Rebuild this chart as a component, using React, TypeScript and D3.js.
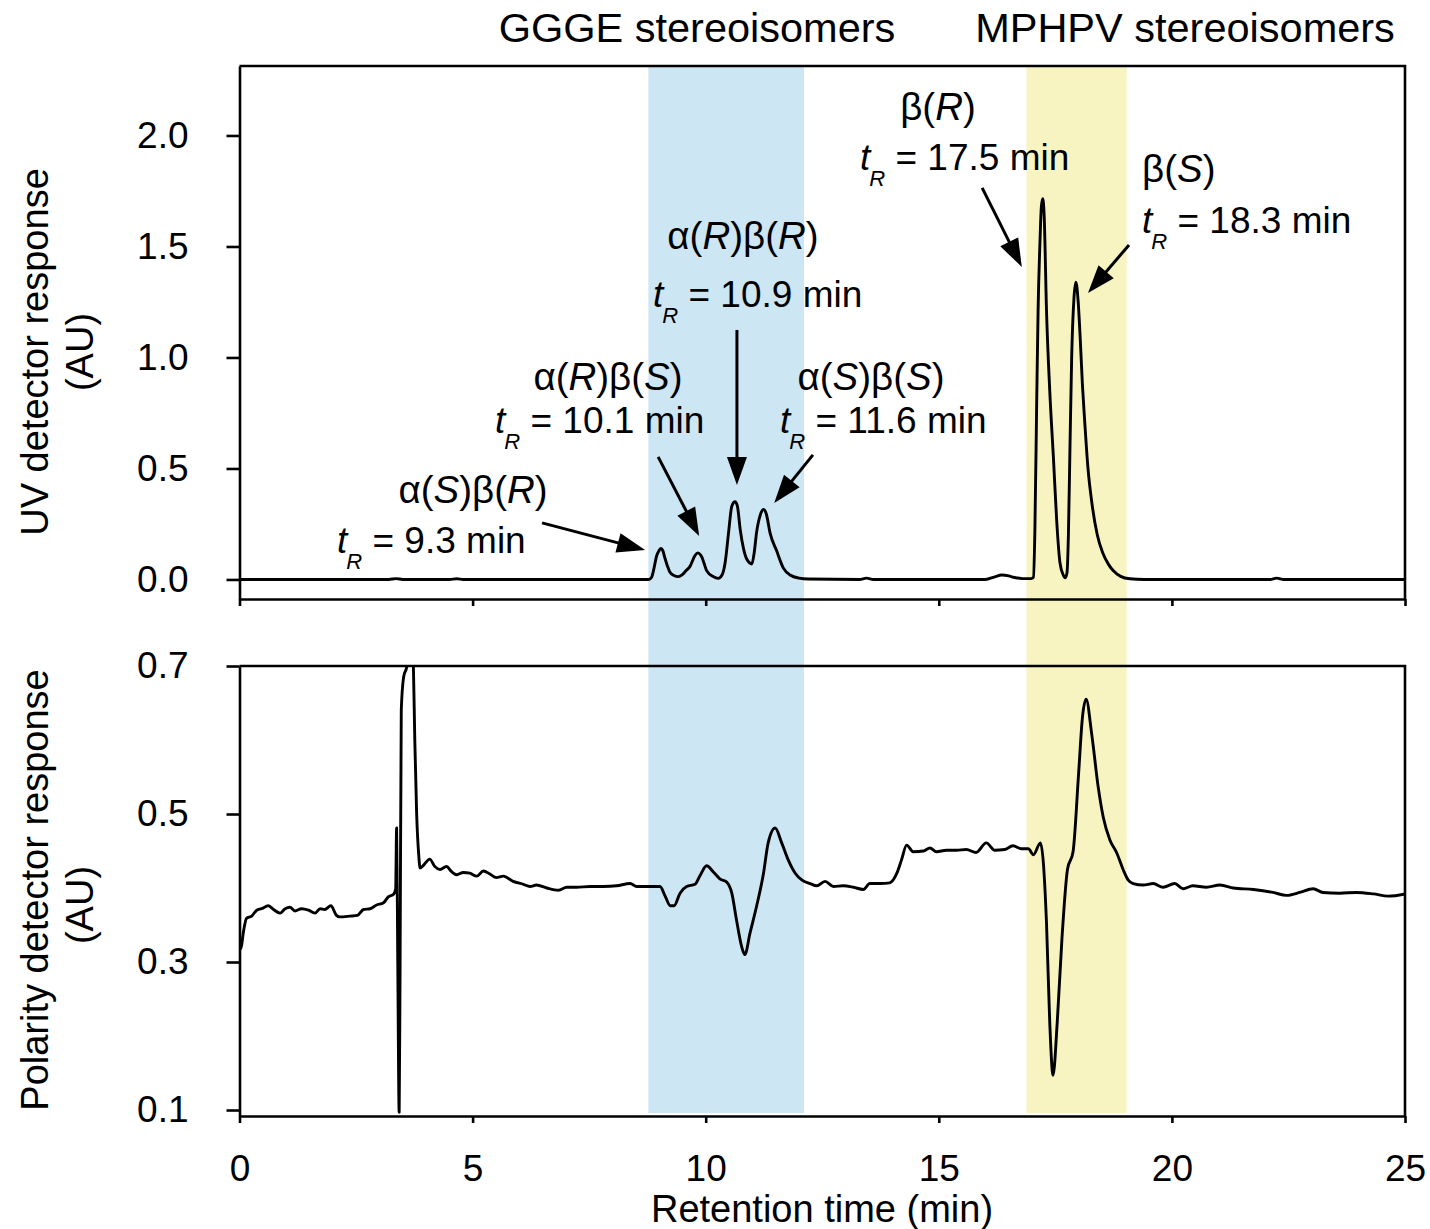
import React, { useRef, useEffect } from 'react';
import * as d3 from 'd3';

// UV detector trace (top panel)
const uvTime = [0, 3.2, 3.36, 3.5, 4.5, 4.66, 4.8, 8.78, 8.84, 8.88, 8.95, 9.0, 9.04, 9.08, 9.12, 9.18, 9.23,
  9.32, 9.41, 9.5, 9.58, 9.66, 9.77, 9.83, 9.88, 9.92, 9.97, 10.02, 10.16, 10.27, 10.35, 10.42, 10.49, 10.56,
  10.63, 10.68, 10.74, 10.81, 10.88, 10.99, 11.04, 11.09, 11.17, 11.24, 11.3, 11.38, 11.52, 11.67, 11.81, 12.0,
  12.2, 13.3, 13.45, 13.6, 16.0, 16.2, 16.35, 16.5, 16.6, 16.8, 16.98, 17.03, 17.06, 17.1, 17.13, 17.17, 17.2,
  17.23, 17.26, 17.31, 17.38, 17.46, 17.53, 17.6, 17.67, 17.71, 17.75, 17.78, 17.81, 17.85, 17.9, 17.94, 17.99,
  18.03, 18.08, 18.13, 18.2, 18.28, 18.4, 18.52, 18.64, 18.74, 18.9, 19.1, 19.4, 22.1, 22.25, 22.4, 25];
const uvSignal = [0, 0, 0.004, 0, 0, 0.003, 0, 0, 0.01, 0.04, 0.108, 0.13, 0.14, 0.13, 0.1, 0.06, 0.034,
  0.018, 0.013, 0.022, 0.04, 0.058, 0.108, 0.12, 0.113, 0.1, 0.07, 0.04, 0.013, 0.005, 0.02, 0.08, 0.21, 0.33,
  0.35, 0.33, 0.225, 0.14, 0.092, 0.07, 0.12, 0.21, 0.29, 0.315, 0.295, 0.21, 0.13, 0.05, 0.02, 0.006,
  0.002, 0, 0.006, 0, 0, 0.012, 0.02, 0.016, 0.01, 0.004, 0.004, 0.01, 0.208, 0.8, 1.214, 1.52, 1.68,
  1.715, 1.64, 1.214, 0.85, 0.543, 0.26, 0.074, 0.02, 0.007, 0.03, 0.2, 0.55, 1.0, 1.27, 1.339, 1.25,
  1.1, 0.88, 0.711, 0.5, 0.35, 0.2, 0.118, 0.068, 0.04, 0.014, 0.003, 0, 0, 0.006, 0, 0];

// Polarity detector trace (bottom panel)
const polTime = [0.0, 0.03, 0.08, 0.15, 0.26, 0.37, 0.47, 0.62, 0.73, 0.87, 0.98, 1.08, 1.19, 1.33, 1.48, 1.62,
  1.73, 1.83, 1.96, 2.08, 2.15, 2.37, 2.53, 2.66, 2.8, 2.94, 3.09, 3.19, 3.31, 3.35, 3.37, 3.395, 3.425, 3.445,
  3.47, 3.52, 3.59, 3.64, 3.71, 3.73, 3.76, 3.8, 3.85, 3.87, 3.95, 4.08, 4.19, 4.3, 4.44, 4.55, 4.66, 4.8, 4.94,
  5.09, 5.23, 5.37, 5.51, 5.66, 5.87, 6.09, 6.23, 6.37, 6.59, 6.84, 7.02, 7.23, 7.52, 7.8, 8.09, 8.38, 8.52,
  9.02, 9.13, 9.24, 9.32, 9.45, 9.59, 9.77, 9.88, 10.02, 10.16, 10.31, 10.45, 10.56, 10.66, 10.77, 10.84,
  10.95, 11.09, 11.24, 11.34, 11.49, 11.63, 11.77, 11.92, 12.06, 12.24, 12.38, 12.56, 12.74, 12.95, 13.17,
  13.38, 13.52, 13.74, 13.95, 14.1, 14.2, 14.31, 14.45, 14.67, 14.81, 14.95, 15.16, 15.38, 15.59, 15.8, 16.02,
  16.2, 16.41, 16.59, 16.77, 16.92, 17.03, 17.18, 17.31, 17.38, 17.45, 17.54, 17.64, 17.76, 17.88, 18.0,
  18.08, 18.16, 18.28, 18.42, 18.53, 18.67, 18.82, 18.96, 19.06, 19.17, 19.38, 19.6, 19.81, 20.06, 20.24,
  20.45, 20.74, 21.03, 21.32, 21.75, 22.17, 22.46, 22.74, 23.03, 23.24, 23.6, 23.96, 24.32, 24.64, 25.0];
const polSignal = [0.33, 0.318, 0.339, 0.359, 0.362, 0.37, 0.372, 0.376, 0.371, 0.366, 0.372, 0.374, 0.369,
  0.372, 0.37, 0.366, 0.372, 0.371, 0.376, 0.363, 0.361, 0.362, 0.363, 0.371, 0.372, 0.377, 0.38, 0.388, 0.392,
  0.399, 0.481, 0.3, 0.097, 0.3, 0.64, 0.685, 0.7, 0.74, 0.72, 0.7, 0.6, 0.5, 0.44, 0.427, 0.431, 0.439, 0.429,
  0.425, 0.429, 0.422, 0.418, 0.421, 0.42, 0.416, 0.423, 0.419, 0.414, 0.416, 0.409, 0.405, 0.402, 0.404, 0.4,
  0.397, 0.401, 0.401, 0.402, 0.402, 0.403, 0.406, 0.402, 0.402, 0.389, 0.376, 0.376, 0.393, 0.402, 0.405,
  0.417, 0.43, 0.422, 0.412, 0.408, 0.393, 0.357, 0.321, 0.31, 0.339, 0.375, 0.42, 0.461, 0.481, 0.461, 0.438,
  0.42, 0.411, 0.406, 0.403, 0.409, 0.402, 0.403, 0.401, 0.398, 0.406, 0.406, 0.407, 0.42, 0.438, 0.458,
  0.449, 0.45, 0.454, 0.449, 0.451, 0.451, 0.452, 0.448, 0.461, 0.451, 0.452, 0.457, 0.453, 0.453, 0.445,
  0.461, 0.353, 0.218, 0.147, 0.218, 0.33, 0.425, 0.449, 0.556, 0.63, 0.655, 0.608, 0.536, 0.495, 0.465,
  0.447, 0.424, 0.411, 0.406, 0.404, 0.406, 0.401, 0.406, 0.399, 0.403, 0.401, 0.404, 0.4, 0.398, 0.394, 0.39,
  0.394, 0.399, 0.394, 0.393, 0.394, 0.392, 0.389, 0.392];

const xTicks = [0, 5, 10, 15, 20, 25];
const uvTicks = [0, 0.5, 1.0, 1.5, 2.0];
const polTicks = [0.1, 0.3, 0.5, 0.7];

const bandStart = [8.77, 16.88];
const bandEnd = [12.11, 19.03];
const bandTitles = ['GGGE stereoisomers', 'MPHPV stereoisomers'];
const bandColors = ['#cde6f4', '#f8f4c2'];
const titleCenter = [697, 1185]; // pixels

const peakNames = ['α(S)β(R)', 'α(R)β(S)', 'α(R)β(R)', 'α(S)β(S)', 'β(R)', 'β(S)'];
const peakTR = ['9.3', '10.1', '10.9', '11.6', '17.5', '18.3'];
// arrow tip / tail in data units (time, AU)
const arrowTip = [[8.7, 0.133], [9.86, 0.196], [10.67, 0.426], [11.47, 0.345], [16.78, 1.408], [18.2, 1.29]];
const arrowTail = [[6.49, 0.255], [8.98, 0.552], [10.67, 1.124], [12.3, 0.561], [15.93, 1.764], [19.08, 1.507]];

// label placement (pixels)
const labelPos = [
  { nx: 473, ny: 503, anchor: 'middle', tx: 337, ty: 553 },
  { nx: 608, ny: 390, anchor: 'middle', tx: 495, ty: 433 },
  { nx: 743, ny: 249, anchor: 'middle', tx: 653, ty: 307 },
  { nx: 871, ny: 390, anchor: 'middle', tx: 780, ty: 433 },
  { nx: 938, ny: 120, anchor: 'middle', tx: 860, ty: 170 },
  { nx: 1142, ny: 182, anchor: 'start', tx: 1142, ty: 233 },
];

const FONT = '"Liberation Sans", Arial, Helvetica, sans-serif';

const App = () => {
  const svgRef = useRef(null);

  useEffect(() => {
    document.body.style.margin = '0';
    const svg = d3.select(svgRef.current);
    svg.selectAll('*').remove();

    const left = 239.5, right = 1405;
    const x = d3.scaleLinear().domain([0, 25]).range([left, right]);
    const yTop = d3.scaleLinear().domain([-0.088, 2.313]).range([599, 66]);
    const yBot = d3.scaleLinear().domain([0.0919, 0.7]).range([1116, 666]);

    svg.attr('width', 1430).attr('height', 1229).style('font-family', FONT);

    const defs = svg.append('defs');
    defs.append('clipPath').attr('id', 'clipTop').append('rect')
      .attr('x', left).attr('y', 66).attr('width', right - left).attr('height', 533);
    defs.append('clipPath').attr('id', 'clipBot').append('rect')
      .attr('x', left).attr('y', 666).attr('width', right - left).attr('height', 450);

    // shaded bands spanning both panels
    bandStart.forEach((s, i) => {
      svg.append('rect')
        .attr('x', x(s)).attr('y', 65)
        .attr('width', x(bandEnd[i]) - x(s)).attr('height', 1113 - 65)
        .attr('fill', bandColors[i]);
      svg.append('text')
        .attr('x', titleCenter[i])
        .attr('y', 42)
        .attr('text-anchor', 'middle')
        .attr('font-size', 41.5)
        .text(bandTitles[i]);
    });

    const uvLine = d3.line<number>()
      .x((d, i) => x(uvTime[i]))
      .y(d => yTop(d))
      .curve(d3.curveMonotoneX);
    svg.append('path')
      .attr('d', uvLine(uvSignal))
      .attr('clip-path', 'url(#clipTop)')
      .attr('fill', 'none').attr('stroke', '#000').attr('stroke-width', 2.9)
      .attr('stroke-linejoin', 'round');

    const polLine = d3.line<number>()
      .x((d, i) => x(polTime[i]))
      .y(d => yBot(d))
      .curve(d3.curveMonotoneX);
    svg.append('path')
      .attr('d', polLine(polSignal))
      .attr('clip-path', 'url(#clipBot)')
      .attr('fill', 'none').attr('stroke', '#000').attr('stroke-width', 2.9)
      .attr('stroke-linejoin', 'round');

    const styleAxis = (g) => {
      g.selectAll('path, line').attr('stroke', '#000').attr('stroke-width', 2.6);
      g.selectAll('text').attr('font-family', FONT).attr('font-size', 37).attr('fill', '#000');
    };

    // top panel axes + frame
    svg.append('g').attr('transform', 'translate(0,599)')
      .call(d3.axisBottom(x).tickValues(xTicks).tickSize(7).tickSizeOuter(0).tickFormat(() => ''))
      .call(styleAxis);
    svg.append('g').attr('transform', `translate(${left},0)`)
      .call(d3.axisLeft(yTop).tickValues(uvTicks).tickSize(13).tickSizeOuter(0).tickPadding(38)
        .tickFormat(d3.format('.1f')))
      .call(styleAxis);
    svg.append('path')
      .attr('d', `M${left},66H${right}V599`)
      .attr('fill', 'none').attr('stroke', '#000').attr('stroke-width', 2.6);

    // bottom panel axes + frame
    svg.append('g').attr('transform', 'translate(0,1116)')
      .call(d3.axisBottom(x).tickValues(xTicks).tickSize(7).tickSizeOuter(0).tickPadding(32))
      .call(styleAxis);
    svg.append('g').attr('transform', `translate(${left},0)`)
      .call(d3.axisLeft(yBot).tickValues(polTicks).tickSize(13).tickSizeOuter(0).tickPadding(38)
        .tickFormat(d3.format('.1f')))
      .call(styleAxis);
    svg.append('path')
      .attr('d', `M${left},666H${right}V1116`)
      .attr('fill', 'none').attr('stroke', '#000').attr('stroke-width', 2.6);

    // axis titles
    const yTitle = (cx, cy, lines, shift) => {
      lines.forEach((s, i) => {
        svg.append('text')
          .attr('transform', `translate(${cx + i * 45},${cy + i * shift}) rotate(-90)`)
          .attr('text-anchor', 'middle')
          .attr('font-size', 38)
          .text(s);
      });
    };
    yTitle(48, 352, ['UV detector response', '(AU)'], 0);
    yTitle(48, 890, ['Polarity detector response', '(AU)'], 15);
    svg.append('text')
      .attr('x', 822).attr('y', 1222)
      .attr('text-anchor', 'middle').attr('font-size', 38)
      .text('Retention time (min)');

    // peak annotations
    peakNames.forEach((name, i) => {
      const p = labelPos[i];
      const t = svg.append('text')
        .attr('x', p.nx).attr('y', p.ny)
        .attr('text-anchor', p.anchor)
        .attr('font-size', 38.5)
        .style('white-space', 'pre');
      name.split(/([RS])/).filter(s => s.length).forEach(s => {
        const ts = t.append('tspan').text(s);
        if (s === 'R' || s === 'S') ts.attr('font-style', 'italic');
      });

      const tr = svg.append('text')
        .attr('x', p.tx).attr('y', p.ty)
        .attr('font-size', 37)
        .style('white-space', 'pre');
      tr.append('tspan').attr('font-style', 'italic').text('t');
      tr.append('tspan').attr('font-style', 'italic').attr('font-size', 22)
        .attr('dx', -1).attr('dy', 16).text('R');
      tr.append('tspan').attr('dy', -16).text(` = ${peakTR[i]} min`);

      // arrow
      const x1 = x(arrowTail[i][0]), y1 = yTop(arrowTail[i][1]);
      const x2 = x(arrowTip[i][0]), y2 = yTop(arrowTip[i][1]);
      const len = Math.hypot(x2 - x1, y2 - y1);
      const ux = (x2 - x1) / len, uy = (y2 - y1) / len;
      const headL = 28, headW = 10;
      const bx = x2 - ux * headL, by = y2 - uy * headL;
      svg.append('line')
        .attr('x1', x1).attr('y1', y1).attr('x2', bx + ux * 2).attr('y2', by + uy * 2)
        .attr('stroke', '#000').attr('stroke-width', 3);
      svg.append('path')
        .attr('d', `M${x2},${y2}L${bx - uy * headW},${by + ux * headW}L${bx + uy * headW},${by - ux * headW}Z`)
        .attr('fill', '#000');
    });
  }, []);

  return <svg ref={svgRef} style={{ display: 'block' }}></svg>;
};

export default App;
